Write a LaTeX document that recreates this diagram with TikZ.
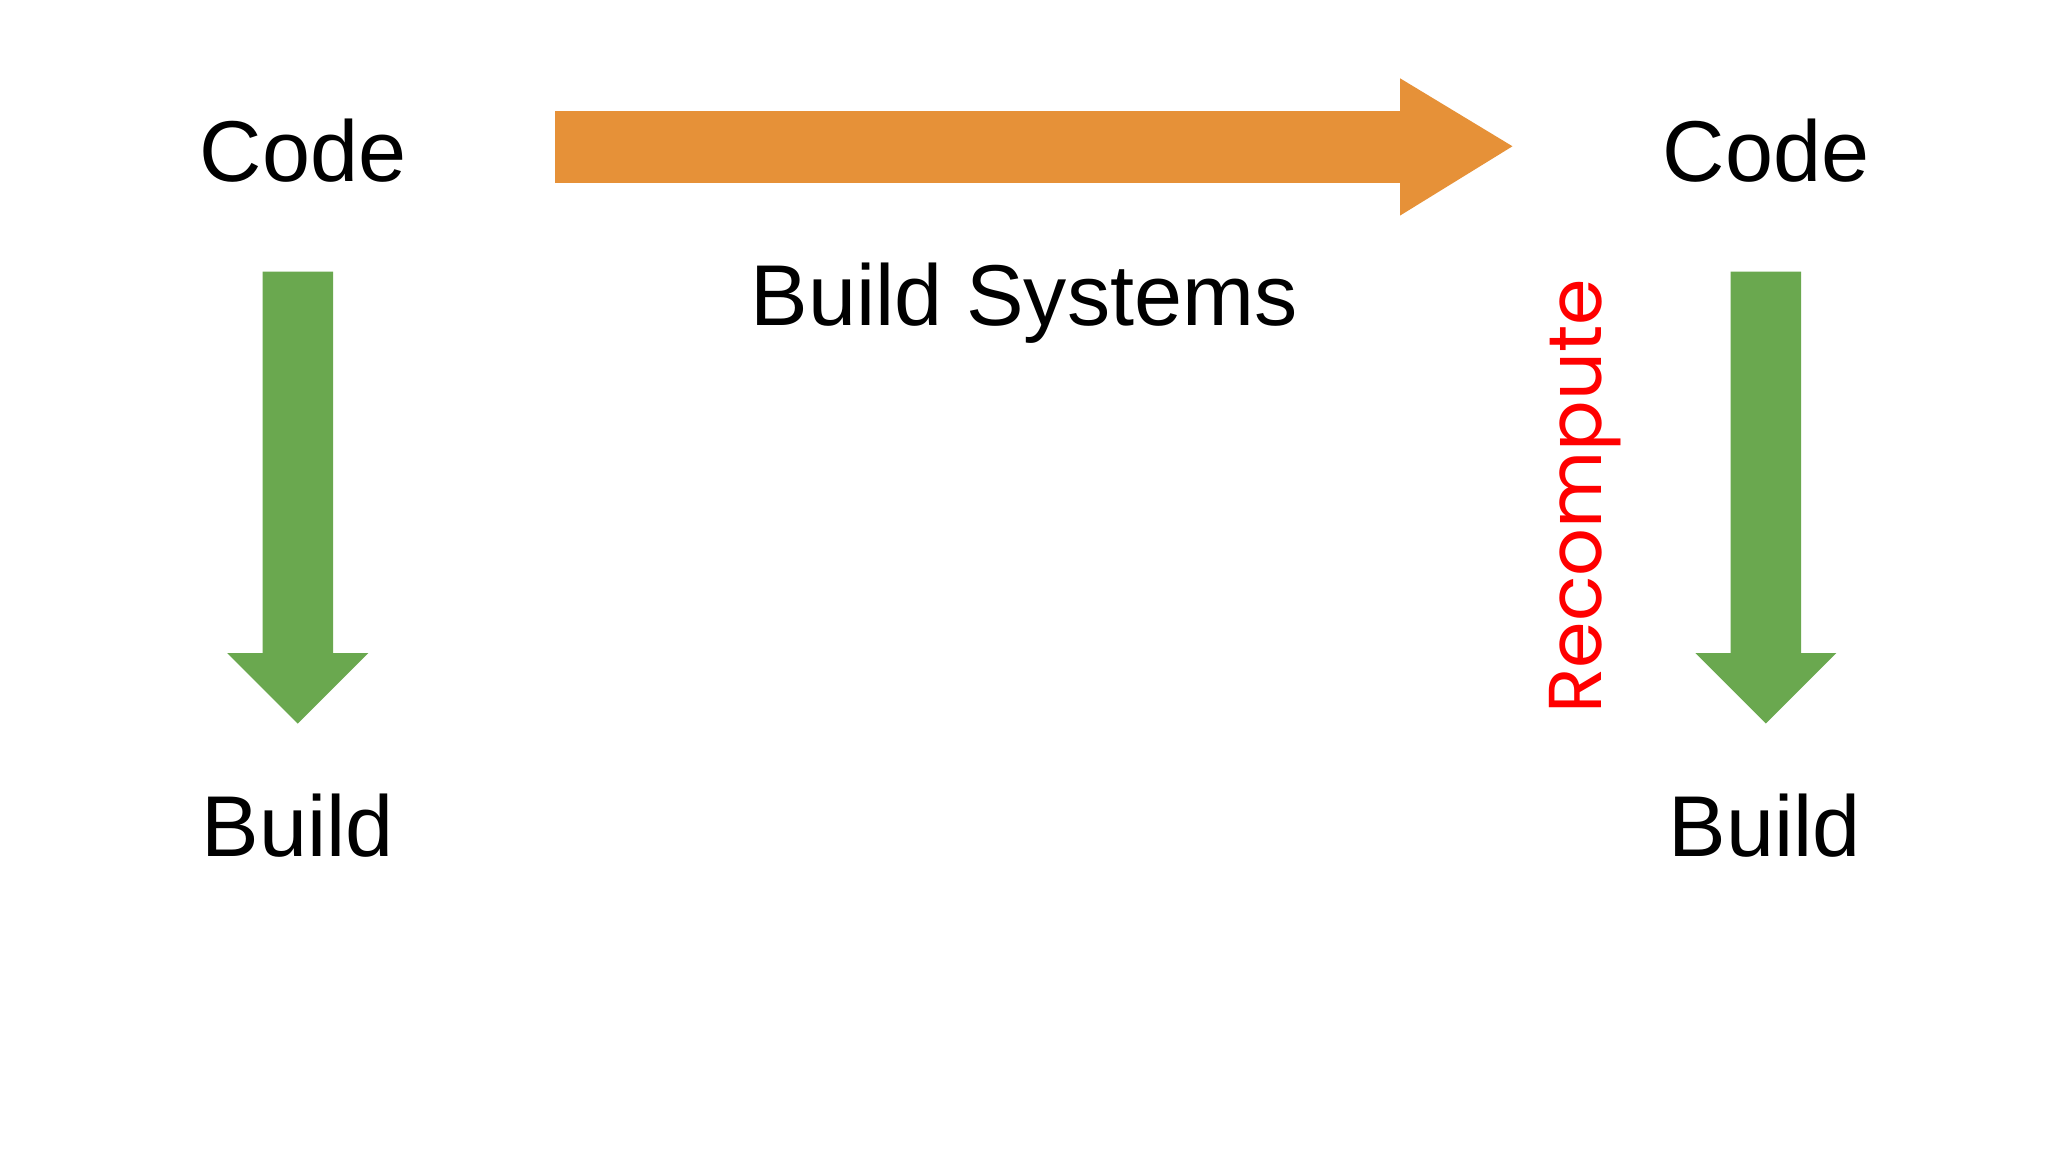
\documentclass[tikz,border=0pt]{standalone}
\usepackage{fontspec}
\setmainfont{Liberation Sans}
\newfontfamily\handfont{Poppins}
\definecolor{arrorange}{HTML}{E69138}
\definecolor{arrgreen}{HTML}{6AA84F}
\definecolor{redtxt}{HTML}{FF0000}
\begin{document}
\begin{tikzpicture}[x=0.01cm,y=-0.01cm,
  lbl/.style={font=\fontsize{18.8}{22}\selectfont, inner sep=0pt},
  orangefill/.style={fill=arrorange, draw=none},
  greenfill/.style={fill=arrgreen, draw=none}]
\useasboundingbox (0,0) rectangle (1568,882);
\fill[white] (0,0) rectangle (1568,882);
\node[lbl] (codeL) at (232,115) {Code};
\node[lbl] (codeR) at (1352,115) {Code};
\node[lbl] (buildL) at (228,632) {Build};
\node[lbl] (buildR) at (1351,632) {Build};
\node[lbl] (bs) at (784,232) {Build Systems};
% orange arrow
\path[orangefill] (425,85) -- (1072,85) -- (1072,60) -- (1158,112) -- (1072,165) -- (1072,140) -- (425,140) -- cycle;
% green arrows
\path[greenfill] (201,208) -- (255,208) -- (255,500) -- (282,500) -- (228,554) -- (174,500) -- (201,500) -- cycle;
\path[greenfill] (1325,208) -- (1379,208) -- (1379,500) -- (1406,500) -- (1352,554) -- (1298,500) -- (1325,500) -- cycle;
\node[rotate=90, text=redtxt, inner sep=0pt, font=\handfont\fontsize{16.3}{20}\selectfont] (recomp) at (1214,380) {Recompute};
\end{tikzpicture}
\end{document}
